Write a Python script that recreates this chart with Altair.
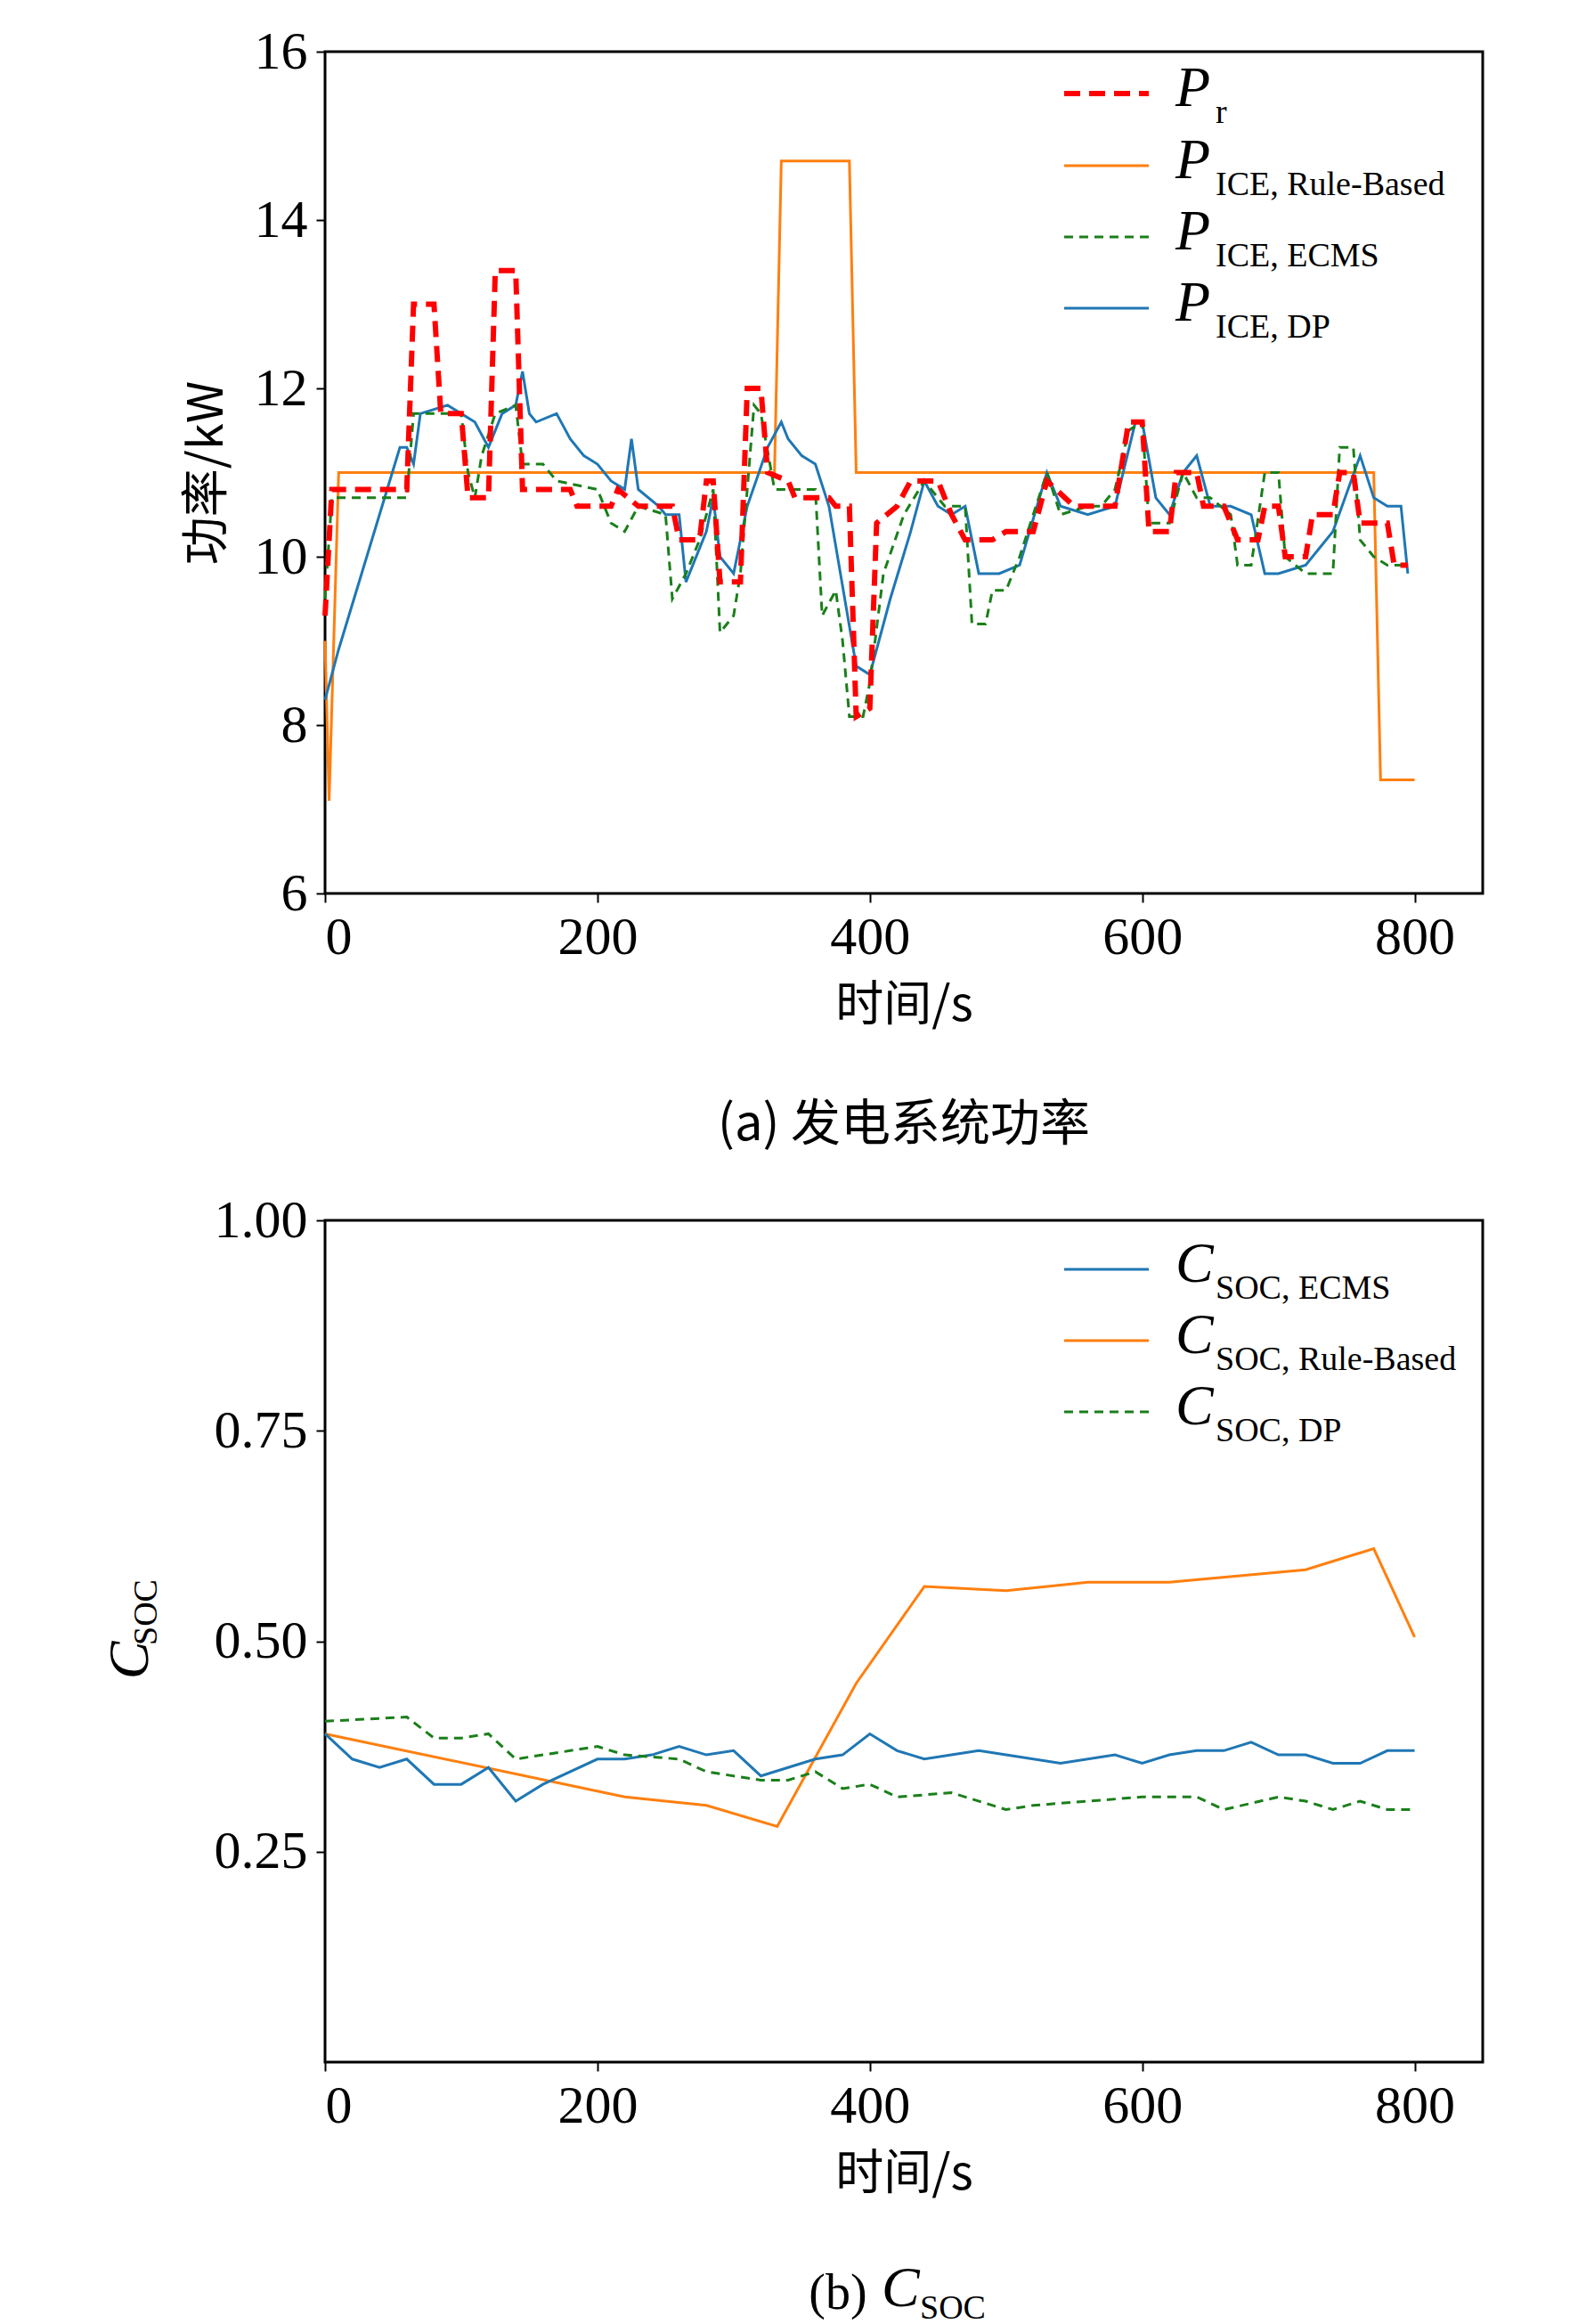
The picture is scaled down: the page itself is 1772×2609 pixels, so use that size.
import altair as alt
import pandas as pd

# ---- (a) power data ----
pr_t = [0, 5, 60, 65, 80, 85, 100, 105, 120, 125, 140, 145, 180, 185, 210, 215, 230, 255, 260, 275, 280, 285, 290, 305, 310, 320, 325, 340, 345, 370, 375, 385, 390, 400, 405, 420, 430, 450, 460, 470, 490, 500, 520, 530, 550, 580, 590, 600, 605, 620, 625, 640, 645, 660, 670, 685, 690, 700, 705, 720, 725, 740, 745, 755, 760, 780, 785, 795]
pr_v = [9.3, 10.8, 10.8, 13.0, 13.0, 11.7, 11.7, 10.7, 10.7, 13.4, 13.4, 10.8, 10.8, 10.6, 10.6, 10.8, 10.6, 10.6, 10.2, 10.2, 10.9, 10.9, 9.7, 9.7, 12.0, 12.0, 11.0, 10.9, 10.7, 10.7, 10.6, 10.6, 8.1, 8.2, 10.4, 10.6, 10.9, 10.9, 10.5, 10.2, 10.2, 10.3, 10.3, 10.9, 10.6, 10.6, 11.6, 11.6, 10.3, 10.3, 11.0, 11.0, 10.6, 10.6, 10.2, 10.2, 10.6, 10.6, 10.0, 10.0, 10.5, 10.5, 11.0, 11.0, 10.4, 10.4, 9.9, 9.9]

rule_t = [0, 3, 10, 330, 335, 385, 390, 770, 775, 800]
rule_v = [9.0, 7.1, 11.0, 11.0, 14.7, 14.7, 11.0, 11.0, 7.35, 7.35]

ecms_t = [0, 5, 60, 65, 100, 105, 110, 115, 125, 140, 145, 160, 170, 200, 210, 220, 230, 250, 255, 265, 275, 285, 290, 300, 305, 315, 320, 330, 360, 365, 375, 380, 385, 395, 400, 410, 425, 440, 455, 470, 475, 485, 490, 500, 510, 530, 540, 560, 570, 580, 590, 600, 605, 620, 630, 640, 650, 665, 670, 680, 690, 700, 705, 720, 740, 745, 755, 760, 770, 780, 795]
ecms_v = [9.5, 10.7, 10.7, 11.7, 11.7, 11.0, 10.7, 11.2, 11.7, 11.8, 11.1, 11.1, 10.9, 10.8, 10.4, 10.3, 10.6, 10.5, 9.5, 9.8, 10.2, 10.8, 9.1, 9.3, 9.8, 11.8, 11.7, 10.8, 10.8, 9.3, 9.6, 9.0, 8.1, 8.1, 8.5, 9.8, 10.5, 10.9, 10.6, 10.6, 9.2, 9.2, 9.6, 9.6, 10.0, 11.0, 10.5, 10.6, 10.6, 10.8, 11.5, 11.6, 10.4, 10.4, 11.0, 10.7, 10.7, 10.5, 9.9, 9.9, 11.0, 11.0, 10.0, 9.8, 9.8, 11.3, 11.3, 10.2, 10.0, 9.9, 9.9]

dp_t = [0, 10, 40, 55, 60, 65, 70, 90, 100, 110, 120, 130, 140, 145, 150, 155, 170, 180, 190, 200, 210, 220, 225, 230, 245, 250, 260, 265, 280, 285, 290, 300, 310, 325, 335, 340, 350, 360, 370, 390, 400, 415, 430, 440, 450, 460, 470, 480, 495, 510, 530, 540, 560, 580, 595, 600, 610, 620, 630, 640, 650, 665, 680, 690, 700, 720, 740, 760, 770, 780, 790, 795]
dp_v = [8.3, 8.9, 10.5, 11.3, 11.3, 11.1, 11.7, 11.8, 11.7, 11.6, 11.3, 11.7, 11.8, 12.2, 11.7, 11.6, 11.7, 11.4, 11.2, 11.1, 10.9, 10.8, 11.4, 10.8, 10.6, 10.5, 10.5, 9.7, 10.3, 10.7, 10.0, 9.8, 10.6, 11.3, 11.6, 11.4, 11.2, 11.1, 10.6, 8.7, 8.6, 9.5, 10.3, 10.9, 10.6, 10.5, 10.6, 9.8, 9.8, 9.9, 11.0, 10.6, 10.5, 10.6, 11.6, 11.6, 10.7, 10.5, 11.0, 11.2, 10.6, 10.6, 10.5, 9.8, 9.8, 9.9, 10.3, 11.2, 10.7, 10.6, 10.6, 9.8]

# ---- (b) SOC data ----
soc_ecms_t = [0, 20, 40, 60, 80, 100, 120, 140, 160, 200, 220, 240, 260, 280, 300, 320, 340, 360, 380, 400, 420, 440, 460, 480, 500, 540, 580, 600, 620, 640, 660, 680, 700, 720, 740, 760, 780, 800]
soc_ecms_v = [0.39, 0.36, 0.35, 0.36, 0.33, 0.33, 0.35, 0.31, 0.33, 0.36, 0.36, 0.365, 0.375, 0.365, 0.37, 0.34, 0.35, 0.36, 0.365, 0.39, 0.37, 0.36, 0.365, 0.37, 0.365, 0.355, 0.365, 0.355, 0.365, 0.37, 0.37, 0.38, 0.365, 0.365, 0.355, 0.355, 0.37, 0.37]
soc_rule_t = [0, 220, 280, 332, 390, 440, 500, 560, 620, 720, 770, 800]
soc_rule_v = [0.39, 0.315, 0.305, 0.28, 0.45, 0.565, 0.56, 0.57, 0.57, 0.585, 0.61, 0.505]
soc_dp_t = [0, 60, 80, 100, 120, 140, 160, 200, 220, 260, 280, 320, 340, 360, 380, 400, 420, 460, 500, 520, 560, 600, 640, 660, 700, 720, 740, 760, 780, 800]
soc_dp_v = [0.405, 0.41, 0.385, 0.385, 0.39, 0.36, 0.365, 0.375, 0.365, 0.36, 0.345, 0.335, 0.335, 0.345, 0.325, 0.33, 0.315, 0.32, 0.30, 0.305, 0.31, 0.315, 0.315, 0.30, 0.315, 0.31, 0.30, 0.31, 0.30, 0.30]

SERIF = "Liberation Serif"
CJK = "Noto Sans CJK SC"
W, H = 1300, 945
BLUE, ORANGE, GREEN, RED = "#1f77b4", "#ff7f0e", "#1a7f1a", "#ff0000"


def frame(t, v):
    return pd.DataFrame({"t": t, "v": v})


def line(df, color, width, dash=None):
    kw = dict(color=color, strokeWidth=width)
    if dash:
        kw["strokeDash"] = dash
    return alt.Chart(df).mark_line(**kw)


def txt(s, x, y, size, italic=False, font=SERIF, angle=0, align="left"):
    kw = dict(text=s, font=font, fontSize=size, align=align, baseline="middle", color="black")
    if italic:
        kw["fontStyle"] = "italic"
    if angle:
        kw["angle"] = angle
    return alt.Chart(pd.DataFrame({"a": [0]})).mark_text(**kw).encode(x=alt.value(x), y=alt.value(y))


def legend(rows, ys, main):
    out = []
    for (sub, color, width, dash), y in zip(rows, ys):
        kw = dict(color=color, strokeWidth=width)
        if dash:
            kw["strokeDash"] = dash
        out.append(alt.Chart(pd.DataFrame({"a": [0]})).mark_rule(**kw).encode(
            x=alt.value(830), x2=alt.value(925), y=alt.value(y)))
        out.append(txt(main, 955, y - 5, 64, italic=True))
        out.append(txt(sub, 1000, y + 22, 38))
    return out


ax = dict(labelFont=SERIF, labelFontSize=60, labelColor="black", domainColor="black",
          tickColor="black", tickSize=10, tickWidth=2, grid=False, labelPadding=10)


def x_axis():
    return alt.X("t:Q", scale=alt.Scale(domain=[0, 850], nice=False),
                 axis=alt.Axis(values=[0, 200, 400, 600, 800], title="时间/s", titleFont=CJK,
                               titleFontSize=54, titleFontWeight="normal", titlePadding=20,
                               titleColor="black", **ax))


xa = x_axis()
ya = alt.Y("v:Q", scale=alt.Scale(domain=[6, 16], nice=False),
           axis=alt.Axis(values=[6, 8, 10, 12, 14, 16], title="功率/kW", titleFont=CJK,
                         titleFontSize=54, titleFontWeight="normal", titlePadding=25,
                         titleColor="black", **ax))

top_layers = [
    line(frame(rule_t, rule_v), ORANGE, 3).encode(x=xa, y=ya),
    line(frame(dp_t, dp_v), BLUE, 3).encode(x=xa, y=ya),
    line(frame(ecms_t, ecms_v), GREEN, 3, [10, 7]).encode(x=xa, y=ya),
    line(frame(pr_t, pr_v), RED, 6, [18, 10]).encode(x=xa, y=ya),
]
top_layers += legend([
    ("r", RED, 6, [18, 10]),
    ("ICE, Rule-Based", ORANGE, 3, None),
    ("ICE, ECMS", GREEN, 3, [10, 7]),
    ("ICE, DP", BLUE, 3, None),
], [47, 128, 208, 288], "P")
top_layers.append(txt("(a) 发电系统功率", 650, 1205, 56, font=CJK, align="center"))

top = alt.layer(*top_layers).properties(width=W, height=H)

xb = x_axis()
yb = alt.Y("v:Q", scale=alt.Scale(domain=[0, 1], nice=False),
           axis=alt.Axis(values=[0.25, 0.5, 0.75, 1.0], format=".2f", title=None, **ax))

bot_layers = [
    line(frame(soc_rule_t, soc_rule_v), ORANGE, 3).encode(x=xb, y=yb),
    line(frame(soc_ecms_t, soc_ecms_v), BLUE, 3).encode(x=xb, y=yb),
    line(frame(soc_dp_t, soc_dp_v), GREEN, 3, [10, 7]).encode(x=xb, y=yb),
]
bot_layers += legend([
    ("SOC, ECMS", BLUE, 3, None),
    ("SOC, Rule-Based", ORANGE, 3, None),
    ("SOC, DP", GREEN, 3, [10, 7]),
], [55, 135, 215], "C")
bot_layers += [
    txt("C", -218, 494, 64, italic=True, angle=270, align="center"),
    txt("SOC", -200, 440, 38, angle=270, align="center"),
    txt("(b)", 576, 1205, 56, align="center"),
    txt("C", 625, 1200, 64, italic=True),
    txt("SOC", 668, 1222, 38),
]
bottom = alt.layer(*bot_layers).properties(width=W, height=H)

chart = alt.vconcat(top, bottom, spacing=45).properties(
    padding={"left": 105, "top": 18, "right": 5, "bottom": 5}
).configure(background="white").configure_axis(
    labelFont=SERIF
).configure_view(stroke="black", strokeWidth=3)

chart.save("out.html", embed_options={"renderer": "svg", "actions": False})
